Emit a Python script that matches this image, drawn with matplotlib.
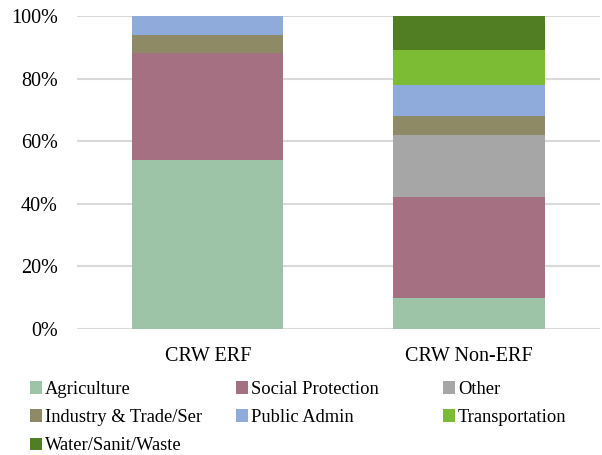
import matplotlib.pyplot as plt
import numpy as np

plt.rcParams['font.family'] = ['Liberation Serif', 'DejaVu Serif']

groups = ['CRW ERF', 'CRW Non-ERF']
sectors = ['Agriculture', 'Social Protection', 'Other', 'Industry & Trade/Ser',
           'Public Admin', 'Transportation', 'Water/Sanit/Waste']
agriculture = [54, 10]
social = [34, 32]
other = [0, 20]
industry = [6, 6]
public_admin = [6, 10]
transport = [0, 11]
water = [0, 11]
colors = ['#9dc4a7', '#a57082', '#a6a6a6', '#8f8a66', '#8eabdc', '#7cbb34', '#517e23']

series = [agriculture, social, other, industry, public_admin, transport, water]

fig = plt.figure(figsize=(6.02, 4.55), dpi=100)
ax = fig.add_axes([0.128, 0.277, 0.868, 0.688])

x = np.arange(len(groups))
bottom = np.zeros(len(groups))
handles = []
for name, vals, c in zip(sectors, series, colors):
    h = ax.bar(x, vals, 0.58, bottom=bottom, color=c, label=name, zorder=3)
    handles.append(h)
    bottom += np.array(vals)

ax.set_ylim(0, 100)
ax.set_xlim(-0.5, 1.5)
ax.set_yticks(range(0, 101, 20))
ax.set_yticklabels([f'{v}%' for v in range(0, 101, 20)])
ax.set_xticks(x)
ax.set_xticklabels(groups)
ax.grid(axis='y', color='#d9d9d9', linewidth=1.5, zorder=0)
for s in ax.spines.values():
    s.set_visible(False)
ax.tick_params(length=0, labelsize=14.5)
ax.tick_params(axis='x', pad=13)
ax.tick_params(axis='y', pad=14)

# legend laid out row by row in three equal-width columns
col_x = [0.050, 0.392, 0.736]
for i, cx in enumerate(col_x):
    idx = list(range(i, len(sectors), 3))
    fig.legend([handles[j] for j in idx], [sectors[j] for j in idx],
               loc='upper left', bbox_to_anchor=(cx, 1 - 381 / 455),
               frameon=False, fontsize=13.3, handlelength=0.65, handleheight=0.65,
               handletextpad=0.15, labelspacing=0.6, borderpad=0, borderaxespad=0)

fig.savefig('out.png', dpi=100)
